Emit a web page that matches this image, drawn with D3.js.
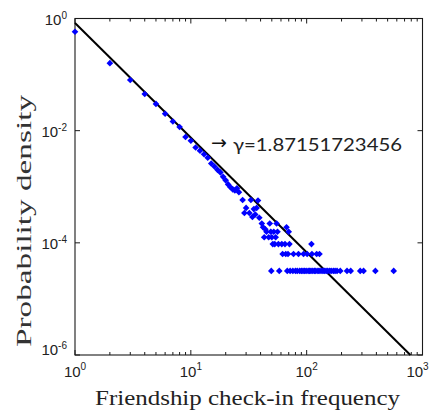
<!DOCTYPE html>
<html>
<head>
<meta charset="utf-8">
<script src="https://cdn.jsdelivr.net/npm/d3@7"></script>
<style>
  html, body { margin: 0; padding: 0; background: #fff; }
  svg { display: block; }
</style>
</head>
<body>
<svg id="chart" width="439" height="413"></svg>
<script>
// Friendship check-in frequency (x) against probability density (y)
const freq = [
  1, 2, 3, 4, 5, 6, 7, 8, 9, 10,
  11, 12, 13, 14, 15, 16, 17, 18, 19, 20,
  21, 22, 23, 24, 25, 26,
  28, 33, 38, 30, 35, 37, 29, 32, 36, 34, 39,
  41, 48, 55, 42, 67, 44, 45, 49, 52, 56, 70,
  43, 47, 50, 54,
  51, 53, 57, 61, 65, 71, 110,
  62, 66, 69, 77, 85, 94, 101, 111, 122, 129,
  49.5, 58, 68, 72, 76, 80, 83, 87, 90, 93, 96, 99, 103, 106, 109, 113,
  117, 120, 125, 128, 133, 138, 142, 147, 152, 158, 163, 170, 176, 183,
  195, 223, 240, 290, 310, 392, 564
];
const density = [
  0.58, 0.16, 0.080, 0.045, 0.030, 0.020, 0.0146, 0.0116, 0.0077, 0.0066,
  0.0050, 0.0044, 0.0038, 0.0033, 0.0026, 0.0023, 0.0020, 0.0018, 0.0015, 0.0013,
  0.0011, 0.00098, 0.00090, 0.00086, 0.00094, 0.00080,
  0.00058, 0.00058, 0.00057, 0.00042, 0.00040, 0.00042, 0.00034, 0.00034, 0.00032, 0.00029, 0.00028,
  0.000221, 0.000221, 0.000221, 0.00019, 0.00019, 0.000175, 0.000158, 0.000158, 0.000158, 0.000158, 0.000158,
  0.000126, 0.000126, 0.000126, 0.000126,
  0.0000949, 0.0000949, 0.0000949, 0.0000949, 0.0000949, 0.0000949, 0.0000949,
  0.0000632, 0.0000632, 0.0000632, 0.0000632, 0.0000632, 0.0000632, 0.0000632, 0.0000632, 0.0000632, 0.0000632,
  0.0000316, 0.0000316, 0.0000316, 0.0000316, 0.0000316, 0.0000316, 0.0000316, 0.0000316, 0.0000316, 0.0000316,
  0.0000316, 0.0000316, 0.0000316, 0.0000316, 0.0000316, 0.0000316,
  0.0000316, 0.0000316, 0.0000316, 0.0000316, 0.0000316, 0.0000316, 0.0000316, 0.0000316, 0.0000316, 0.0000316,
  0.0000316, 0.0000316, 0.0000316, 0.0000316,
  0.0000316, 0.0000316, 0.0000316, 0.0000316, 0.0000316, 0.0000316, 0.0000316
];

// Power-law fit line, endpoints
const fitX = [1, 786];
const fitY = [0.83, 1e-6];
const gammaLabel = "γ=1.87151723456";

// Axis ticks
const xMajor = [1, 10, 100, 1000];
const xMinor = [2, 3, 4, 5, 6, 7, 8, 9, 20, 30, 40, 50, 60, 70, 80, 90, 200, 300, 400, 500, 600, 700, 800, 900];
const xExp = ["0", "1", "2", "3"];
const yMajor = [1, 1e-2, 1e-4, 1e-6];
const yExp = ["0", "-2", "-4", "-6"];

const svg = d3.select("#chart");
const L = 75, R = 422.5, T = 18.5, B = 355;

const x = d3.scaleLog().domain([1, 1000]).range([L, R]);
const y = d3.scaleLog().domain([1e-6, 1]).range([B, T]);

const axisColor = "#1a1a1a";

// Plot frame
svg.append("rect")
  .attr("x", L).attr("y", T)
  .attr("width", R - L).attr("height", B - T)
  .attr("fill", "none").attr("stroke", axisColor).attr("stroke-width", 1.1);

// Ticks on all four sides, pointing inward
const tickG = svg.append("g").attr("stroke", axisColor).attr("stroke-width", 1);
function xTicks(vals, len) {
  vals.forEach(v => {
    const px = x(v);
    tickG.append("line").attr("x1", px).attr("x2", px).attr("y1", B).attr("y2", B - len);
    tickG.append("line").attr("x1", px).attr("x2", px).attr("y1", T).attr("y2", T + len);
  });
}
xTicks(xMajor, 5);
xTicks(xMinor, 3);
yMajor.forEach(v => {
  const py = y(v);
  tickG.append("line").attr("x1", L).attr("x2", L + 5).attr("y1", py).attr("y2", py);
  tickG.append("line").attr("x1", R).attr("x2", R - 5).attr("y1", py).attr("y2", py);
});

// Tick labels as powers of ten
const labelFont = "'Liberation Sans', Arial, sans-serif";
xMajor.forEach((v, i) => {
  const t = svg.append("text")
    .attr("x", Math.min(x(v), R - 5)).attr("y", B + 21.5)
    .attr("text-anchor", "middle")
    .attr("font-family", labelFont).attr("font-size", 15).attr("fill", "#222");
  t.append("tspan").text("10");
  t.append("tspan").attr("font-size", 10).attr("dy", -6.5).text(xExp[i]);
});
yMajor.forEach((v, i) => {
  const t = svg.append("text")
    .attr("x", 67).attr("y", Math.min(y(v) + 6.5, B))
    .attr("text-anchor", "end")
    .attr("font-family", labelFont).attr("font-size", 15).attr("fill", "#222");
  t.append("tspan").text("10");
  t.append("tspan").attr("font-size", 10).attr("dy", -6.5).text(yExp[i]);
});

// Fit line
const line = d3.line().x(d => x(d[0])).y(d => y(d[1]));
svg.append("path")
  .datum(d3.zip(fitX, fitY))
  .attr("d", line)
  .attr("fill", "none").attr("stroke", "#000").attr("stroke-width", 2);

// Data markers (diamonds)
const diamond = d3.symbol().type(d3.symbolSquare).size(22);
svg.append("g")
  .selectAll("path")
  .data(d3.zip(freq, density))
  .join("path")
  .attr("d", diamond)
  .attr("transform", d => `translate(${x(d[0])},${y(d[1])}) rotate(45)`)
  .attr("fill", "#0000ff");

// Exponent annotation
svg.append("text")
  .attr("x", 211).attr("y", 148.5)
  .attr("font-family", "'DejaVu Sans', sans-serif").attr("font-size", 19)
  .attr("fill", "#111").text("→");
svg.append("text")
  .attr("x", 233).attr("y", 150.5)
  .attr("font-family", "Lato, 'Open Sans', sans-serif").attr("font-size", 18)
  .attr("textLength", 169).attr("lengthAdjust", "spacingAndGlyphs")
  .attr("fill", "#222").text(gammaLabel);

// Axis titles
svg.append("text")
  .attr("x", 247.5).attr("y", 404.5)
  .attr("text-anchor", "middle")
  .attr("font-family", "'Liberation Serif', 'Times New Roman', serif").attr("font-size", 22)
  .attr("textLength", 305).attr("lengthAdjust", "spacingAndGlyphs")
  .attr("fill", "#222").text("Friendship check-in frequency");

svg.append("text")
  .attr("transform", "translate(31,221) rotate(-90)")
  .attr("text-anchor", "middle")
  .attr("font-family", "'Liberation Serif', 'Times New Roman', serif").attr("font-size", 22)
  .attr("textLength", 252).attr("lengthAdjust", "spacingAndGlyphs")
  .attr("fill", "#333").text("Probability density");
</script>
</body>
</html>
